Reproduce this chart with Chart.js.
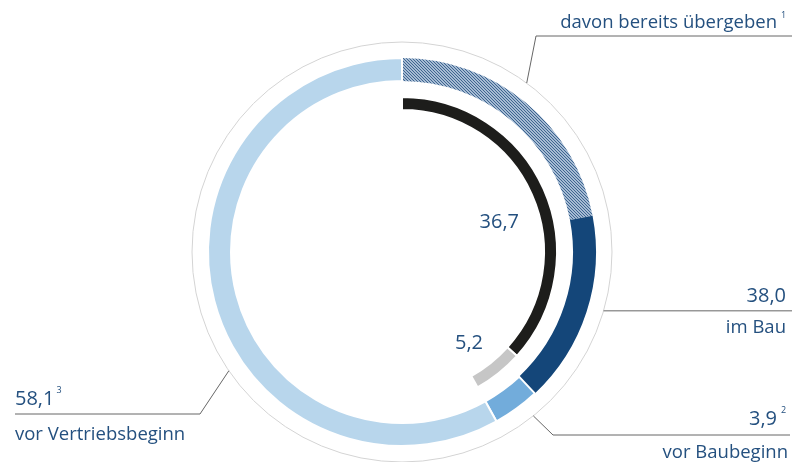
<!DOCTYPE html>
<html>
<head>
<meta charset="utf-8">
<title>Projektpipeline</title>
<script src="https://cdn.jsdelivr.net/npm/chart.js"></script>
<style>body{margin:0;background:#fff}</style>
</head>
<body>
<canvas id="myChart" width="792" height="462"></canvas>
<script>
// outer ring: im Bau (38,0) is split into handed-over part (hatched) and rest
var outerLabels = ["davon bereits übergeben", "im Bau", "vor Baubeginn", "vor Vertriebsbeginn"];
var outerValues = [22.0, 16.0, 3.9, 58.1];
// inner ring: 36,7 and 5,2, remainder left empty
var innerLabels = ["36,7", "5,2", ""];
var innerValues = [36.7, 5.2, 58.1];

var textColor = "#24507f";
var lineColor = "#666666";
var font = "'Open Sans', Lato, sans-serif";

var ctx = document.getElementById("myChart").getContext("2d");

function makeHatch() {
  var c = document.createElement("canvas");
  c.width = 3; c.height = 3;
  var g = c.getContext("2d");
  g.fillStyle = "#a6bbd3";
  g.fillRect(0, 0, 3, 3);
  g.fillStyle = "#3e6590";
  for (var i = 0; i < 3; i++) g.fillRect(i, i, 1, 1);
  return ctx.createPattern(c, "repeat");
}

// point on the guide circle, at fraction f along arc i of the outer ring
function anchor(chart, i, f, r) {
  var arc = chart.getDatasetMeta(0).data[i];
  var a = arc.startAngle + f * (arc.endAngle - arc.startAngle);
  return { x: arc.x + r * Math.cos(a), y: arc.y + r * Math.sin(a) };
}

function txt(c, s, x, y, size, align) {
  c.font = size + "px " + font;
  c.textAlign = align;
  c.fillStyle = textColor;
  c.fillText(s, x, y);
  return c.measureText(s).width;
}

function path(c, pts) {
  c.beginPath();
  c.moveTo(pts[0].x, pts[0].y);
  for (var i = 1; i < pts.length; i++) c.lineTo(pts[i].x, pts[i].y);
  c.stroke();
}

var labelPlugin = {
  id: "labels",
  afterDatasetsDraw: function (chart) {
    var c = chart.ctx;
    var arc = chart.getDatasetMeta(0).data[0];
    c.save();
    // thin guide circle
    c.strokeStyle = "#d4d4d4";
    c.lineWidth = 1;
    c.beginPath();
    c.arc(arc.x, arc.y, 210, 0, Math.PI * 2);
    c.stroke();

    c.strokeStyle = lineColor;
    c.lineWidth = 1;
    c.textBaseline = "alphabetic";

    // davon bereits übergeben
    var p = anchor(chart, 0, 0.46, 210);
    path(c, [p, { x: 536, y: 36 }, { x: 792, y: 36 }]);
    txt(c, outerLabels[0], 777, 28, 18.5, "right");
    txt(c, "1", 781, 18, 9, "left");

    // im Bau
    p = anchor(chart, 1, 0.47, 210);
    path(c, [p, { x: 792, y: p.y }]);
    txt(c, "38,0", 786, 302, 20, "right");
    txt(c, outerLabels[1], 786, 333, 18.5, "right");

    // vor Baubeginn
    p = anchor(chart, 2, 0.32, 210);
    path(c, [p, { x: 553, y: 435 }, { x: 790, y: 435 }]);
    txt(c, "3,9", 777, 425, 20, "right");
    txt(c, "2", 781, 413, 9, "left");
    txt(c, outerLabels[2], 788, 458, 18.5, "right");

    // vor Vertriebsbeginn
    p = anchor(chart, 3, 0.405, 210);
    path(c, [p, { x: 200, y: 414 }, { x: 15, y: 414 }]);
    var w = txt(c, "58,1", 15, 405, 20, "left");
    txt(c, "3", 15 + w + 2, 393, 9, "left");
    txt(c, outerLabels[3], 15, 440, 18.5, "left");

    // inner ring values
    txt(c, innerLabels[0], 519, 228, 20, "right");
    txt(c, innerLabels[1], 483, 349, 20, "right");
    c.restore();
  }
};

var data = {
  labels: outerLabels,
  datasets: [
    {
      data: outerValues,
      backgroundColor: [makeHatch(), "#144679", "#72acdb", "#b8d6ec"],
      borderColor: "#ffffff",
      borderWidth: [0, 0, 2, 2],
      weight: 23
    },
    {
      data: [100],
      backgroundColor: "rgba(0,0,0,0)",
      borderWidth: 0,
      weight: 16
    },
    {
      data: innerValues,
      backgroundColor: ["#1d1d1b", "#c6c6c6", "rgba(0,0,0,0)"],
      borderColor: "#ffffff",
      borderWidth: [2, 2, 0],
      weight: 13
    }
  ]
};

var myChart = new Chart(ctx, {
  type: "doughnut",
  data: data,
  options: {
    responsive: false,
    animation: false,
    radius: 194,
    cutout: (142 / 194 * 100) + "%",
    layout: { padding: { left: 12, right: 0, top: 42, bottom: 0 } },
    plugins: {
      legend: { display: false },
      tooltip: { enabled: false }
    }
  },
  plugins: [labelPlugin]
});
</script>
</body>
</html>
